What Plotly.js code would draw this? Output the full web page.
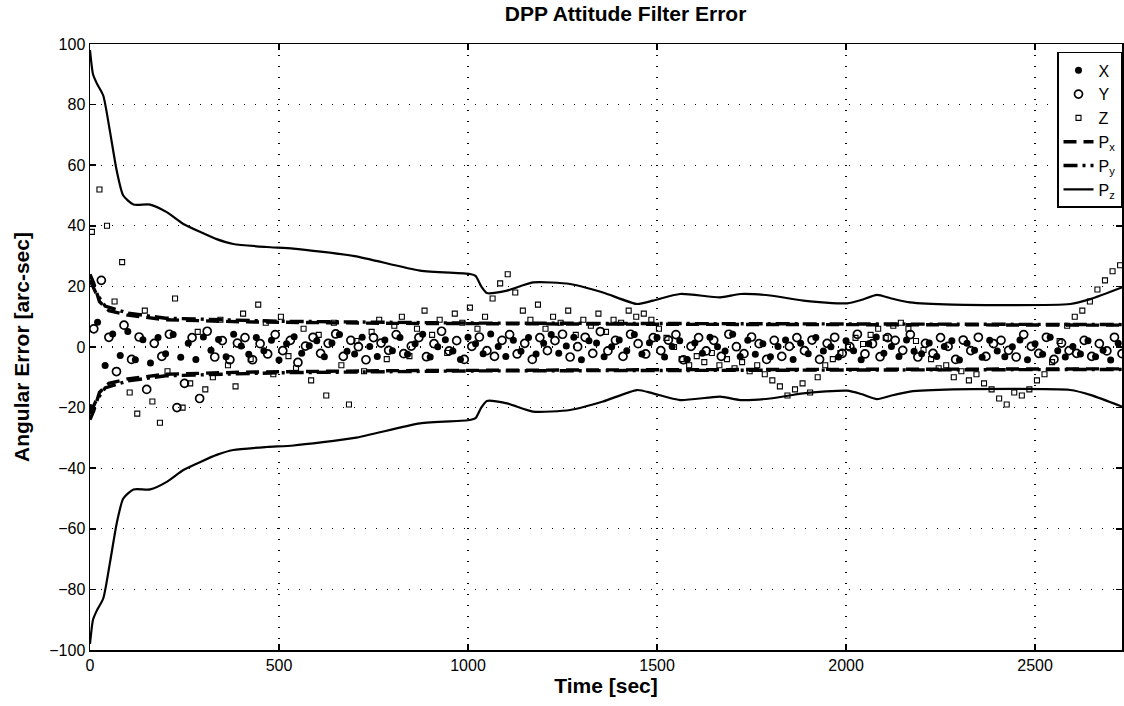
<!DOCTYPE html>
<html><head><meta charset="utf-8">
<script src="https://cdn.plot.ly/plotly-3.0.1.min.js"></script>
<style>html,body{margin:0;padding:0;background:#fff}#chart{width:1124px;height:706px}</style>
</head><body><div id="chart"></div><script>
// sample times (sec)
const tX = [0,20,40,60,80,100,120,140,160,180,200,220,240,260,280,300,320,340,360,380,400,420,440,460,480,500,520,540,560,580,600,620,640,660,680,700,720,740,760,780,800,820,840,860,880,900,920,940,960,980,1000,1020,1040,1060,1080,1100,1120,1140,1160,1180,1200,1220,1240,1260,1280,1300,1320,1340,1360,1380,1400,1420,1440,1460,1480,1500,1520,1540,1560,1580,1600,1620,1640,1660,1680,1700,1720,1740,1760,1780,1800,1820,1840,1860,1880,1900,1920,1940,1960,1980,2000,2020,2040,2060,2080,2100,2120,2140,2160,2180,2200,2220,2240,2260,2280,2300,2320,2340,2360,2380,2400,2420,2440,2460,2480,2500,2520,2540,2560,2580,2600,2620,2640,2660,2680,2700,2720];
const tY = [10,30,50,70,90,110,130,150,170,190,210,230,250,270,290,310,330,350,370,390,410,430,450,470,490,510,530,550,570,590,610,630,650,670,690,710,730,750,770,790,810,830,850,870,890,910,930,950,970,990,1010,1030,1050,1070,1090,1110,1130,1150,1170,1190,1210,1230,1250,1270,1290,1310,1330,1350,1370,1390,1410,1430,1450,1470,1490,1510,1530,1550,1570,1590,1610,1630,1650,1670,1690,1710,1730,1750,1770,1790,1810,1830,1850,1870,1890,1910,1930,1950,1970,1990,2010,2030,2050,2070,2090,2110,2130,2150,2170,2190,2210,2230,2250,2270,2290,2310,2330,2350,2370,2390,2410,2430,2450,2470,2490,2510,2530,2550,2570,2590,2610,2630,2650,2670,2690,2710,2730];
const tZ = [5,25,45,65,85,105,125,145,165,185,205,225,245,265,285,305,325,345,365,385,405,425,445,465,485,505,525,545,565,585,605,625,645,665,685,705,725,745,765,785,805,825,845,865,885,905,925,945,965,985,1005,1025,1045,1065,1085,1105,1125,1145,1165,1185,1205,1225,1245,1265,1285,1305,1325,1345,1365,1385,1405,1425,1445,1465,1485,1505,1525,1545,1565,1585,1605,1625,1645,1665,1685,1705,1725,1745,1765,1785,1805,1825,1845,1865,1885,1905,1925,1945,1965,1985,2005,2025,2045,2065,2085,2105,2125,2145,2165,2185,2205,2225,2245,2265,2285,2305,2325,2345,2365,2385,2405,2425,2445,2465,2485,2505,2525,2545,2565,2585,2605,2625,2645,2665,2685,2705,2725];

// attitude errors (arc-sec)
const errX = [-20,8.2,-6.1,4.3,-2.8,5.1,-4.2,2.4,-5.3,3.1,
 -2.2,4.1,-3.4,1.2,-4.1,3.3,-1.1,2.5,-3.2,4.2,
 0.3,-2.4,3.1,-1.2,2.2,-4.3,1.1,3.4,-2.1,0.4,
 2.1,-3.2,1.3,4.1,-1.4,-2.3,3.2,0.2,-3.1,2.3,
 -1.2,3.1,-2.4,1.1,4.2,-3.3,0.1,2.4,-1.3,-4.1,
 3.2,1.1,-2.2,4.3,0.2,-3.1,2.2,-1.4,3.1,-2.3,
 1.2,4.1,-2.1,0.3,3.2,-4.2,2.1,1.3,-3.2,0.1,
 2.3,-1.2,4.1,-2.3,1.4,3.1,-3.3,0.2,2.1,-4.1,
 1.3,-2.1,3.2,0.1,-1.3,4.2,-3.1,2.2,-2.4,1.1,
 -3.2,0.2,2.3,-4.1,1.2,-2.2,3.1,-1.3,0.1,-3.3,
 2.1,-1.2,-4.2,1.1,3.3,-2.1,0.2,-3.1,2.3,-1.4,
 -2.2,1.3,-3.1,0.2,2.1,-4.3,1.2,-1.1,-3.4,2.2,
 -1.3,-3.2,0.1,2.3,-4.2,1.1,-2.4,3.2,-1.2,-3.3,
 0.2,-2.3,2.1,-3.2,-1.1,-4.3,1.2];
const errY = [6,22,3.2,-8.1,7.2,-4.1,3.3,-14,1.2,-3.1,
 4.2,-20,-12,3.1,-17,5.2,-3.3,2.1,-4.2,1.3,
 3.1,-4.2,1.1,-2.3,4.1,-1.2,2.2,-5.1,0.3,3.2,
 -2.1,1.2,4.3,-3.1,2.2,0.1,-4.2,3.1,1.3,-1.1,
 4.1,-2.2,0.3,3.1,-3.2,1.1,5.2,-1.3,2.1,-4.1,
 0.2,3.3,-1.2,-3.1,2.2,4.1,-2.3,1.2,-4.1,3.1,
 -1.2,2.1,4.2,-3.3,0.1,3.2,-2.1,5.1,-1.3,2.2,
 -3.1,4.2,1.1,-2.3,3.1,-1.2,2.3,4.1,-4.2,0.2,
 3.1,-1.3,2.2,-3.1,4.2,0.1,-2.2,3.3,1.1,-4.1,
 2.2,-3.1,0.2,3.1,-1.2,2.3,-4.1,1.2,3.2,-2.1,
 0.1,4.2,-2.3,1.1,-3.2,3.1,2.2,-1.1,4.1,-3.3,
 1.2,-2.1,3.1,0.2,-4.1,2.3,-1.2,3.2,-3.1,1.1,
 2.2,-1.1,-3.3,4.1,0.2,-2.1,3.2,-4.1,1.3,-1.2,
 -2.1,2.2,-3.1,1.1,-1.3,3.2,-2.2];
const errZ = [38,52,40,15,28,-15,-22,12,-18,-25,
 -8,16,-20,-12,5,-14,-10,9,-6,-13,
 11,-4,14,8,-9,10,-3,-7,6,-11,
 4,-16,8,-6,-19,2,-8,5,9,-4,
 7,10,-3,6,12,4,9,-2,11,8,
 13,6,10,16,21,24,18,12,9,14,
 6,10,8,12,4,9,7,11,5,9,
 8,12,10,11,9,6,3,0,-4,-6,
 -3,-5,-2,-6,-4,-7,-5,-8,-6,-9,
 -11,-13,-16,-14,-12,-15,-10,-6,-4,-2,
 0,3,1,4,6,3,7,8,6,2,
 -1,-4,-7,-6,-10,-8,-11,-9,-12,-14,
 -17,-19,-15,-16,-14,-11,-9,-5,2,7,
 10,12,15,19,22,25,27];

// 1-sigma covariance bounds (arc-sec)
const pxT = [0,10,25,50,100,200,400,800,1500,2733];
const pxV = [24,21,15,12,10.5,9,8.3,7.8,7.5,7.2];
const pyT = [0,15,40,100,200,500,1000,2733];
const pyV = [22,18,13.5,11.2,9.5,8.5,7.9,7.4];
const pzT = [0,8,18,35,53,71,88,115,159,203,247,291,335,379,467,538,700,873,1005,1020,1035,1050,1103,1172,1270,1357,1447,1489,1561,1667,1720,1799,1887,2003,2040,2082,2120,2169,2283,2593,2646,2733];
const pzV = [98,90,87,83,71,58,50,47,47,44.5,40.6,38,35.6,34,33,32.5,30,25.2,24.1,23.5,20,17.8,18.6,21.3,20.8,18,14.2,15.3,17.5,16.4,17.5,17,15.3,14.4,15.5,17.2,16,14.7,14,14.2,15.8,19.8];

const neg = a => a.map(v => -v);
const F = '"Liberation Sans", Arial, sans-serif';
const pxLine = {color:'#000', width:3.4, dash:'13px,7px'};
const pyLine = {color:'#000', width:3.4, dash:'14px,5px,3px,5px'};
const pzLine = {color:'#000', width:2.2, shape:'spline', smoothing:0.6};

const traces = [
 {x:tX, y:errX, name:'X', mode:'markers', type:'scatter', marker:{symbol:'circle', size:7, color:'#000'}},
 {x:tY, y:errY, name:'Y', mode:'markers', type:'scatter', marker:{symbol:'circle-open', size:8, color:'#000', line:{width:1.7}}},
 {x:tZ, y:errZ, name:'Z', mode:'markers', type:'scatter', marker:{symbol:'square-open', size:5, color:'#000', line:{width:1.1}}},
 {x:pxT, y:pxV, name:'P<sub>x</sub>', mode:'lines', type:'scatter', line:pxLine, legendgroup:'px'},
 {x:pyT, y:pyV, name:'P<sub>y</sub>', mode:'lines', type:'scatter', line:pyLine, legendgroup:'py'},
 {x:pzT, y:pzV, name:'P<sub>z</sub>', mode:'lines', type:'scatter', line:pzLine, legendgroup:'pz'},
 {x:pxT, y:neg(pxV), name:'P<sub>x</sub>', mode:'lines', type:'scatter', line:pxLine, legendgroup:'px', showlegend:false},
 {x:pyT, y:neg(pyV), name:'P<sub>y</sub>', mode:'lines', type:'scatter', line:pyLine, legendgroup:'py', showlegend:false},
 {x:pzT, y:neg(pzV), name:'P<sub>z</sub>', mode:'lines', type:'scatter', line:pzLine, legendgroup:'pz', showlegend:false}
];

const axisCommon = {
 showline:true, mirror:'ticks', linecolor:'#000', linewidth:1.5,
 ticks:'inside', ticklen:6, tickcolor:'#000', tickwidth:1.5,
 showgrid:true, gridcolor:'#000', gridwidth:1.3, griddash:'1px,10px',
 zeroline:false, tickfont:{family:F, size:16, color:'#000'}
};

const layout = {
 width:1124, height:706,
 margin:{l:90, r:2, t:44, b:56},
 paper_bgcolor:'#fff', plot_bgcolor:'#fff',
 title:{text:'DPP Attitude Filter Error', font:{family:F, size:21, weight:'bold', color:'#000'}, x:0.519, xref:'paper', xanchor:'center', y:0.98, yanchor:'middle'},
 xaxis:Object.assign({}, axisCommon, {range:[0,2730], tick0:0, dtick:500,
   title:{text:'Time [sec]', font:{family:F, size:21, weight:'bold', color:'#000'}, standoff:1}}),
 yaxis:Object.assign({}, axisCommon, {range:[-100,100], tick0:-100, dtick:20,
   title:{text:'Angular Error [arc-sec]', font:{family:F, size:21, weight:'bold', color:'#000'}, standoff:14}}),
 showlegend:true,
 legend:{x:1, xanchor:'right', y:0.987, yanchor:'top', bgcolor:'#fff', bordercolor:'#000', borderwidth:1.5,
   font:{family:F, size:16, color:'#000'}, tracegroupgap:0, itemwidth:30}
};

Plotly.newPlot('chart', traces, layout, {displayModeBar:false, staticPlot:true});
</script></body></html>
